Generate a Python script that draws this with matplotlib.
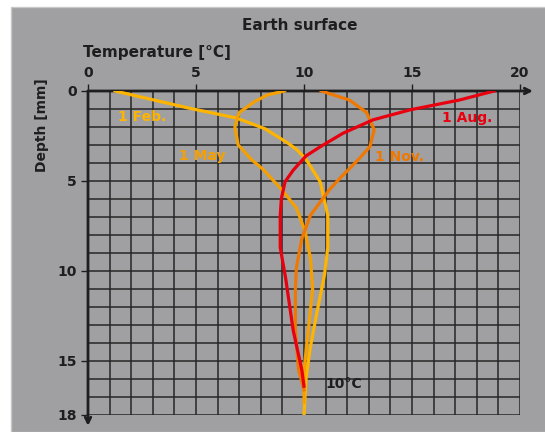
import matplotlib
matplotlib.use("Agg")
import matplotlib.pyplot as plt
from matplotlib.patches import Rectangle

# temperature profiles: (temperature degC, depth mm)
aug_t = [18.8, 17.2, 14.9, 13.2, 11.8, 10.75, 10.1, 9.5, 9.12, 8.95, 8.9, 8.9, 9.15, 9.5, 9.9, 10.0]
aug_d = [0.0, 0.5, 1.05, 1.6, 2.35, 3.1, 3.6, 4.4, 5.05, 6.0, 6.9, 8.7, 10.4, 13.3, 15.5, 16.4]

nov_t = [10.8, 12.1, 12.9, 13.25, 13.05, 12.6, 12.2, 11.7, 11.2, 10.3, 9.9, 9.65, 9.6, 9.6, 9.75, 10.0]
nov_d = [0.0, 0.5, 1.2, 2.15, 3.1, 3.7, 4.2, 4.8, 5.45, 6.9, 8.2, 9.8, 11.0, 13.3, 15.5, 16.6]

feb_t = [1.25, 4.63, 6.87, 8.2, 9.26, 9.65, 10.1, 10.75, 11.1, 11.1, 10.95, 10.6, 10.3, 10.1, 10.0]
feb_d = [0.0, 0.94, 1.5, 2.1, 2.9, 3.24, 3.8, 5.05, 6.9, 8.7, 10.2, 12.3, 14.2, 15.9, 18.0]

may_t = [9.1, 8.3, 7.7, 7.0, 6.8, 6.95, 7.15, 7.56, 8.1, 8.95, 9.65, 10.05, 10.3, 10.4, 10.2, 10.0, 10.0]
may_d = [0.0, 0.22, 0.6, 1.2, 2.0, 3.0, 3.25, 3.8, 4.35, 5.45, 6.5, 7.8, 9.3, 11.0, 13.3, 15.5, 17.3]

x_ticks = [0, 5, 10, 15, 20]
y_ticks = [0, 5, 10, 15, 18]

BG = "#a0a0a2"
INK = "#1e1e1e"
C_FEB = "#ffb400"
C_MAY = "#f5a000"
C_AUG = "#e8000f"
C_NOV = "#f07800"

fig = plt.figure(figsize=(5.45, 4.32), dpi=100)
fig.patches.append(Rectangle((11 / 545, 0), 1, 1 - 7 / 432, transform=fig.transFigure,
                             facecolor=BG, edgecolor="#c8c8c8", lw=1, zorder=-10))

ax = fig.add_axes([88 / 545, 1 - 415 / 432, (520 - 88) / 545, (415 - 91) / 432])
ax.set_facecolor(BG)
ax.set_xlim(0, 20)
ax.set_ylim(18, 0)

# 1 degC x 1 mm grid
for t in range(0, 21):
    ax.axvline(t, color="#262626", lw=1.1, zorder=1)
for d in range(0, 19):
    ax.axhline(d, color="#262626", lw=1.1, zorder=1)

for s in ax.spines.values():
    s.set_visible(False)

ax.xaxis.tick_top()
ax.set_xticks(x_ticks)
ax.set_yticks(y_ticks)
ax.tick_params(axis="both", direction="out", length=5, width=1, color=INK,
               labelsize=10, labelcolor=INK, pad=3)
for lab in ax.get_xticklabels() + ax.get_yticklabels():
    lab.set_fontweight("bold")

# thick axes with arrows
ax.annotate("", xy=(20.6, 0), xytext=(0, 0), annotation_clip=False,
            arrowprops=dict(arrowstyle="->", color=INK, lw=2, shrinkA=0, shrinkB=0))
ax.annotate("", xy=(0, 18.6), xytext=(0, 0), annotation_clip=False,
            arrowprops=dict(arrowstyle="->", color=INK, lw=2, shrinkA=0, shrinkB=0))

lw = 2.3
ax.plot(feb_t, feb_d, color=C_FEB, lw=lw, zorder=3, solid_joinstyle="round")
ax.plot(may_t, may_d, color=C_MAY, lw=lw, zorder=3, solid_joinstyle="round")
ax.plot(nov_t, nov_d, color=C_NOV, lw=lw, zorder=3, solid_joinstyle="round")
ax.plot(aug_t, aug_d, color=C_AUG, lw=lw, zorder=4, solid_joinstyle="round")

lbl = dict(fontsize=10, fontweight="bold", va="center", ha="left")
ax.text(1.4, 1.45, "1 Feb.", color=C_FEB, **lbl)
ax.text(4.2, 3.6, "1 May", color=C_MAY, **lbl)
ax.text(16.4, 1.5, "1 Aug.", color=C_AUG, **lbl)
ax.text(13.3, 3.65, "1 Nov.", color=C_NOV, **lbl)
ax.text(11.0, 16.3, "10°C", color=INK, **lbl)

fig.text(300 / 545, 1 - 25 / 432, "Earth surface", ha="center", va="center",
         fontsize=11, fontweight="bold", color=INK)
fig.text(83 / 545, 1 - 52 / 432, "Temperature [°C]", ha="left", va="center",
         fontsize=11, fontweight="bold", color=INK)
fig.text(42 / 545, 1 - 125 / 432, "Depth [mm]", ha="center", va="center", rotation=90,
         fontsize=10, fontweight="bold", color=INK)

plt.savefig("out.png", dpi=100)
plt.close()
